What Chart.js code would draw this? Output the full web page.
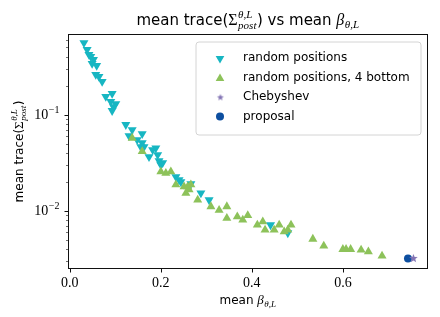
<!DOCTYPE html>
<html>
<head>
<meta charset="utf-8">
<script src="https://cdn.jsdelivr.net/npm/chart.js@4/dist/chart.umd.min.js"></script>
<style>
  html,body{margin:0;padding:0;background:#fff}
  #c{display:block}
</style>
</head>
<body>
<canvas id="c" width="440" height="317"></canvas>
<script>
/* ===== Data ===== */
const randX = [0.031,0.038,0.042,0.046,0.052,0.049,0.059,0.057,0.064,0.071,0.079,0.093,0.090,0.101,0.096,0.093,
  0.123,0.137,0.159,0.130,0.148,0.159,0.156,0.163,0.174,0.189,0.182,0.193,0.196,0.200,0.204,0.233,0.240,0.244,
  0.266,0.288,0.306,0.441,0.479];
const randY = [0.558,0.475,0.422,0.402,0.374,0.340,0.324,0.261,0.249,0.221,0.154,0.166,0.137,0.130,0.121,0.110,
  0.0787,0.0698,0.0634,0.0604,0.0549,0.0511,0.0464,0.0464,0.0365,0.0450,0.0432,0.0383,0.0332,0.0301,0.0316,0.0226,0.0210,0.0200,
  0.0191,0.0153,0.0130,0.00715,0.0059];

const bottomX = [0.137,0.159,0.200,0.211,0.222,0.233,0.251,0.259,0.266,0.255,0.262,0.281,0.310,0.328,0.345,0.345,
  0.368,0.380,0.391,0.412,0.424,0.429,0.449,0.460,0.471,0.479,0.486,0.534,0.558,0.600,0.607,0.617,0.640,0.656,0.686];
const bottomY = [0.0572,0.0415,0.0256,0.0247,0.0256,0.0187,0.0179,0.0179,0.0187,0.0153,0.0166,0.0130,0.0111,0.0102,0.0111,0.00839,
  0.00873,0.00806,0.00897,0.00715,0.00774,0.00634,0.00634,0.00715,0.00608,0.00634,0.00715,0.0051,0.00432,0.00399,0.00399,0.00399,0.00393,0.00377,0.0034];

const chebX = [0.755];
const chebY = [0.00321];
const propX = [0.743];
const propY = [0.00321];

const xTicks = [0, 0.2, 0.4, 0.6];
const yMajor = [0.01, 0.1];
const yMajorExp = ["−2", "−1"];
const yMinor = [0.003,0.004,0.005,0.006,0.007,0.008,0.009,0.02,0.03,0.04,0.05,0.06,0.07,0.08,0.09,0.2,0.3,0.4,0.5,0.6];

const labels = ["random positions", "random positions, 4 bottom", "Chebyshev", "proposal"];

/* ===== Colours / fonts ===== */
const C_CYAN = "#17b6c2", C_GREEN = "#8dc25a", C_PURPLE = "#8172b3", C_BLUE = "#0d4fa0";
const SANS = '"DejaVu Sans"', SERIF = '"Liberation Serif"';

const pts = (xs, ys) => xs.map((x,i)=>({x, y:ys[i]}));

// 5 point star as a point image
function starCanvas(r, color){
  const cv = document.createElement("canvas");
  cv.width = cv.height = Math.ceil(r*2+2);
  const g = cv.getContext("2d"), c = cv.width/2;
  g.fillStyle = color;
  g.beginPath();
  for(let i=0;i<10;i++){
    const rr = i%2 ? r*0.42 : r;
    const a = -Math.PI/2 + i*Math.PI/5;
    g.lineTo(c+rr*Math.cos(a), c+rr*Math.sin(a));
  }
  g.closePath(); g.fill();
  return cv;
}
const starImg = starCanvas(4.5, C_PURPLE);

/* ===== Rich text (sub/superscripts) ===== */
function richWidth(ctx, parts){
  let w = 0;
  parts.forEach(p=>{
    if(Array.isArray(p)){ ctx.font = p[1]; w += ctx.measureText(p[0]).width; }
    else {
      let m = 0;
      ["sup","sub"].forEach(k=>{ if(p[k]){ ctx.font = p[k][1]; m = Math.max(m, ctx.measureText(p[k][0]).width); } });
      w += m + 1;
    }
  });
  return w;
}
// align: "center" or "right"
function drawRich(ctx, parts, x, y, align){
  const w = richWidth(ctx, parts);
  let cx = align === "right" ? x - w : x - w/2;
  ctx.textBaseline = "alphabetic";
  ctx.textAlign = "left";
  ctx.fillStyle = "#000";
  parts.forEach(p=>{
    if(Array.isArray(p)){
      ctx.font = p[1];
      ctx.fillText(p[0], cx, y + (p[2]||0));
      cx += ctx.measureText(p[0]).width;
    } else {
      let m = 0;
      ["sup","sub"].forEach(k=>{
        if(!p[k]) return;
        ctx.font = p[k][1];
        ctx.fillText(p[k][0], cx + 0.5, y + p[k][2]);
        m = Math.max(m, ctx.measureText(p[k][0]).width);
      });
      cx += m + 1;
    }
  });
}

const titleParts = [
  ["mean trace(", "15px "+SANS],
  ["Σ", "16px "+SERIF],
  {sup:["θ,L", "italic 11px "+SERIF, -7], sub:["post", "italic 11px "+SERIF, 4]},
  [") vs mean ", "15px "+SANS],
  ["β", "italic 16px "+SERIF],
  {sub:["θ,L", "italic 11px "+SERIF, 3]}
];
const xLabelParts = [
  ["mean ", "12px "+SANS],
  ["β", "italic 13px "+SERIF],
  {sub:["θ,L", "italic 9px "+SERIF, 3]}
];
const yLabelParts = [
  ["mean trace(", "12px "+SANS],
  ["Σ", "13px "+SERIF],
  {sup:["θ,L", "italic 9px "+SERIF, -6], sub:["post", "italic 9px "+SERIF, 3]},
  [")", "12px "+SANS]
];

/* ===== Marker helpers for legend ===== */
function triangle(ctx, x, y, r, down, color){
  ctx.fillStyle = color;
  ctx.beginPath();
  for(let i=0;i<3;i++){
    const a = (down ? Math.PI : 0) + i*2*Math.PI/3;
    ctx.lineTo(x + Math.sin(a)*r, y - Math.cos(a)*r);
  }
  ctx.closePath(); ctx.fill();
}

const decor = {
  id:"decor",
  afterDraw(chart){
    const ctx = chart.ctx, a = chart.chartArea;
    const xs = chart.scales.x, ys = chart.scales.y;
    ctx.save();
    // frame
    ctx.strokeStyle = "#111"; ctx.lineWidth = 1;
    ctx.strokeRect(Math.round(a.left)+0.5, Math.round(a.top)+0.5, Math.round(a.right-a.left)-1, Math.round(a.bottom-a.top)-1);
    // tick marks
    ctx.beginPath();
    xTicks.forEach(v=>{
      const px = Math.round(xs.getPixelForValue(v))+0.5;
      ctx.moveTo(px, a.bottom); ctx.lineTo(px, a.bottom+3.5);
    });
    yMajor.forEach(v=>{
      const py = Math.round(ys.getPixelForValue(v))+0.5;
      ctx.moveTo(a.left, py); ctx.lineTo(a.left-3.5, py);
    });
    ctx.stroke();
    ctx.lineWidth = 0.6;
    ctx.beginPath();
    yMinor.forEach(v=>{
      const py = Math.round(ys.getPixelForValue(v))+0.5;
      ctx.moveTo(a.left, py); ctx.lineTo(a.left-2, py);
    });
    ctx.stroke();

    // y tick labels 10^n
    yMajor.forEach((v,i)=>{
      const py = ys.getPixelForValue(v);
      drawRich(ctx, [["10", "14px "+SERIF], {sup:[yMajorExp[i], "10px "+SERIF, -6]}], a.left-8, py+4.5, "right");
    });

    // titles
    drawRich(ctx, titleParts, (a.left+a.right)/2, 25);
    drawRich(ctx, xLabelParts, (a.left+a.right)/2, 304);
    ctx.save();
    ctx.translate(23, (a.top+a.bottom)/2);
    ctx.rotate(-Math.PI/2);
    drawRich(ctx, yLabelParts, 0, 0);
    ctx.restore();

    // legend
    const lx = 196, ly = 42, lw = 225, lh = 93, rr = 3;
    ctx.beginPath();
    ctx.moveTo(lx+rr, ly); ctx.lineTo(lx+lw-rr, ly); ctx.arcTo(lx+lw, ly, lx+lw, ly+rr, rr);
    ctx.lineTo(lx+lw, ly+lh-rr); ctx.arcTo(lx+lw, ly+lh, lx+lw-rr, ly+lh, rr);
    ctx.lineTo(lx+rr, ly+lh); ctx.arcTo(lx, ly+lh, lx, ly+lh-rr, rr);
    ctx.lineTo(lx, ly+rr); ctx.arcTo(lx, ly, lx+rr, ly, rr);
    ctx.closePath();
    ctx.fillStyle = "rgba(255,255,255,0.8)"; ctx.fill();
    ctx.strokeStyle = "#d4d4d4"; ctx.lineWidth = 1; ctx.stroke();

    const rows = [58, 77.5, 97, 116.5], mx = 220;
    triangle(ctx, mx, rows[0]+0.5, 5, true, C_CYAN);
    triangle(ctx, mx, rows[1]+1, 5, false, C_GREEN);
    ctx.drawImage(starCanvas(3.6, C_PURPLE), mx-4.6, rows[2]-4.6);
    ctx.fillStyle = C_BLUE; ctx.beginPath(); ctx.arc(mx, rows[3], 4, 0, Math.PI*2); ctx.fill();
    ctx.font = "12px "+SANS; ctx.fillStyle = "#000"; ctx.textBaseline = "middle"; ctx.textAlign = "left";
    labels.forEach((t,i)=>ctx.fillText(t, 243, rows[i]));
    ctx.restore();
  }
};

/* ===== Chart ===== */
new Chart(document.getElementById("c"), {
  type:"scatter",
  data:{datasets:[
    {label:labels[0], data:pts(randX, randY), pointStyle:"triangle", rotation:180, pointRadius:5.2,
     backgroundColor:C_CYAN, borderWidth:0, order:4},
    {label:labels[1], data:pts(bottomX, bottomY), pointStyle:"triangle", rotation:0, pointRadius:5.2,
     backgroundColor:C_GREEN, borderWidth:0, order:3},
    {label:labels[2], data:pts(chebX, chebY), pointStyle:starImg, pointRadius:5,
     backgroundColor:C_PURPLE, borderWidth:0, order:1},
    {label:labels[3], data:pts(propX, propY), pointStyle:"circle", pointRadius:4,
     backgroundColor:C_BLUE, borderWidth:0, order:2}
  ]},
  options:{
    responsive:false, animation:false, events:[],
    layout:{padding:{left:0, right:12, top:34, bottom:0}},
    plugins:{legend:{display:false}, tooltip:{enabled:false}, title:{display:false}},
    scales:{
      x:{
        type:"linear", min:-0.004, max:0.787,
        afterBuildTicks:s=>{ s.ticks = xTicks.map(v=>({value:v})); },
        afterFit:s=>{ s.height = 48; },
        ticks:{font:{family:"Liberation Serif", size:14}, color:"#000", padding:6, maxRotation:0, autoSkip:false,
               callback:v=>v.toFixed(1)},
        grid:{drawOnChartArea:false, drawTicks:false}, border:{display:false}
      },
      y:{
        type:"logarithmic", min:0.00249, max:0.69,
        afterBuildTicks:s=>{ s.ticks = yMajor.map(v=>({value:v})); },
        afterFit:s=>{ s.width = 68; },
        ticks:{display:false},
        grid:{drawOnChartArea:false, drawTicks:false}, border:{display:false}
      }
    }
  },
  plugins:[decor]
});
</script>
</body>
</html>
